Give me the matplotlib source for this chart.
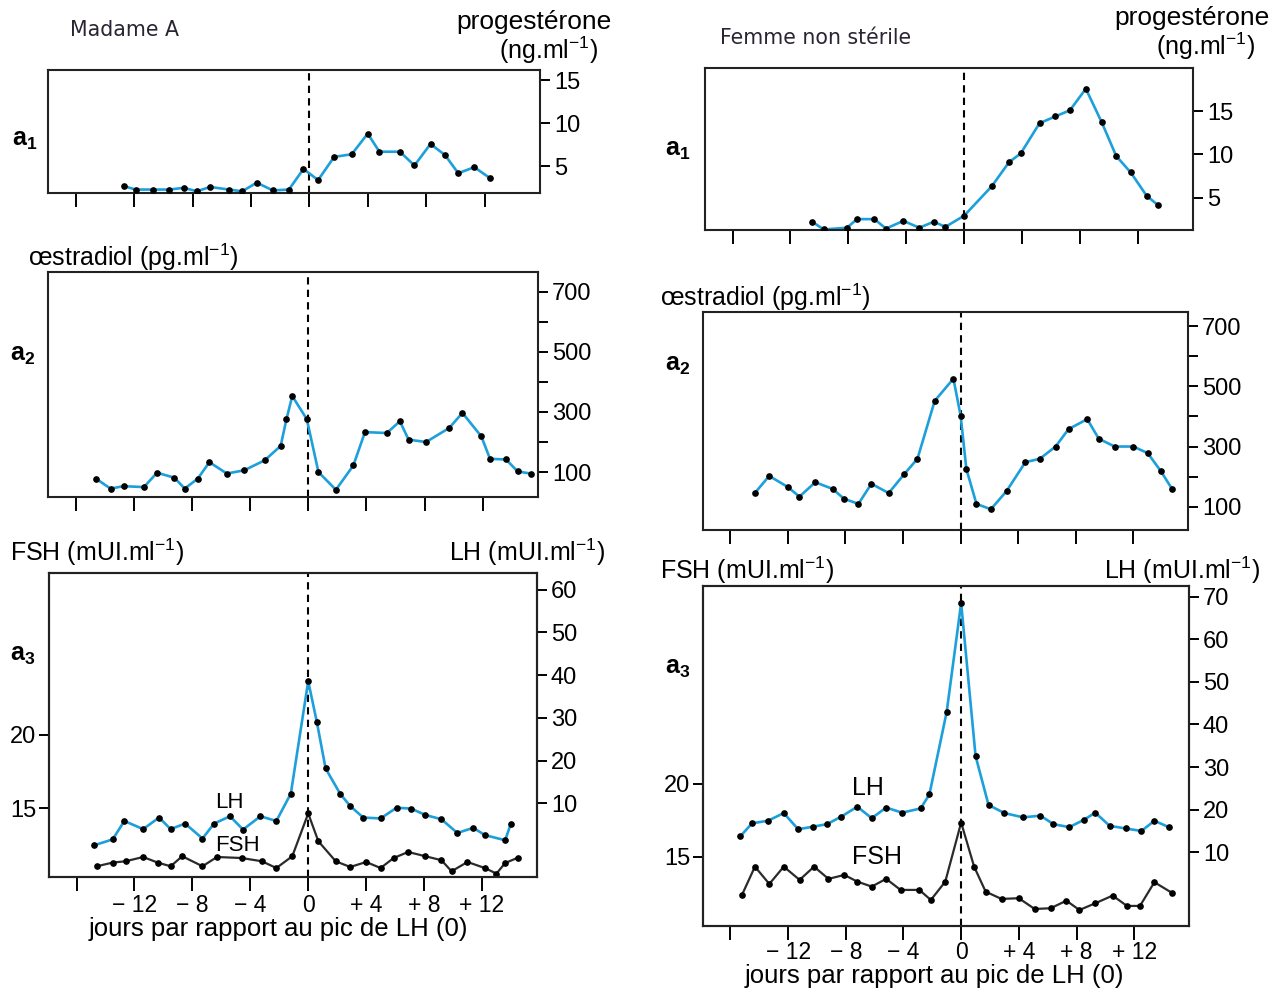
import matplotlib

matplotlib.use("Agg")  # headless
import matplotlib.pyplot as plt  # noqa: E402

plt.rcParams["font.family"] = ["Liberation Sans", "DejaVu Sans"]
plt.rcParams["mathtext.fontset"] = "custom"
plt.rcParams["mathtext.rm"] = "Liberation Sans"
plt.rcParams["mathtext.bf"] = "Liberation Sans:bold"
plt.rcParams["mathtext.it"] = "Liberation Sans:italic"

W, H = 1283, 996
BLUE = "#1d9fdb"
DARK = "#2b2b2b"

# ---------------------------------------------------------------------------
# data (days relative to the LH peak)
# ---------------------------------------------------------------------------
# Madame A
a_prog_days = [-12.7, -11.9, -10.7, -9.6, -8.6, -7.7, -6.8, -5.5, -4.6, -3.6, -2.5, -1.4,
               -0.4, 0.6, 1.7, 2.9, 4.0, 4.8, 6.2, 7.2, 8.3, 9.3, 10.2, 11.3, 12.4]
a_prog = [2.7, 2.3, 2.3, 2.3, 2.5, 2.1, 2.6, 2.3, 2.1, 3.1, 2.2, 2.3,
          4.7, 3.4, 6.1, 6.4, 8.8, 6.7, 6.7, 5.1, 7.6, 6.3, 4.2, 4.9, 3.6]

a_oestr_days = [-14.6, -13.6, -12.7, -11.3, -10.4, -9.2, -8.5, -7.6, -6.8, -5.6, -4.4, -3.0,
                -1.9, -1.5, -1.1, -0.1, 0.7, 1.9, 3.1, 3.9, 5.4, 6.3, 6.9, 8.1, 9.7, 10.6,
                11.9, 12.5, 13.6, 14.4, 15.3]
a_oestr = [78, 45, 53, 50, 98, 81, 45, 78, 133, 95, 106, 139,
           187, 276, 353, 276, 100, 41, 122, 233, 230, 269, 208, 200, 247, 297,
           219, 144, 142, 102, 95]

a_lh_days = [-14.8, -13.5, -12.7, -11.4, -10.3, -9.5, -8.5, -7.3, -6.5, -5.4, -4.5, -3.3,
             -2.2, -1.2, 0.0, 0.6, 1.2, 2.2, 2.9, 3.8, 5.0, 6.1, 7.1, 8.1, 9.2, 10.3,
             11.4, 12.2, 13.6, 14.0]
a_lh = [0.2, 1.6, 5.9, 4.0, 6.7, 4.0, 5.3, 1.8, 5.3, 7.0, 3.9, 7.0,
        5.9, 12.3, 38.6, 29.0, 18.2, 12.3, 9.4, 6.7, 6.5, 9.0, 8.8, 7.3, 6.3, 3.1,
        4.3, 2.6, 1.4, 5.3]

a_fsh_days = [-14.6, -13.5, -12.6, -11.4, -10.4, -9.5, -8.7, -7.3, -6.3, -4.6, -3.2, -2.2,
              -1.1, 0.0, 0.7, 1.9, 2.9, 4.0, 5.0, 5.9, 6.9, 8.1, 9.2, 9.9, 11.0, 12.2,
              13.0, 13.6, 14.5]
a_fsh = [11.07, 11.32, 11.41, 11.70, 11.32, 11.07, 11.75, 11.07, 11.70, 11.63, 11.41, 10.95,
         11.75, 14.66, 12.77, 11.41, 11.02, 11.36, 10.95, 11.63, 12.04, 11.75, 11.48, 10.73,
         11.36, 10.95, 10.57, 11.29, 11.66]

# Femme non stérile
b_prog_days = [-10.5, -9.7, -8.1, -7.4, -6.2, -5.4, -4.2, -3.1, -2.1, -1.3, 0.0, 1.9,
               3.1, 3.9, 5.2, 6.3, 7.3, 8.4, 9.5, 10.5, 11.5, 12.6, 13.4]
b_prog = [2.2, 1.3, 1.5, 2.5, 2.5, 1.4, 2.3, 1.5, 2.2, 1.6, 2.9, 6.3,
          9.1, 10.1, 13.6, 14.4, 15.1, 17.6, 13.7, 9.8, 7.9, 5.2, 4.1]

b_oestr_days = [-14.3, -13.3, -12.0, -11.2, -10.1, -8.9, -8.1, -7.1, -6.2, -5.0, -3.9, -3.0,
                -1.8, -0.5, 0.0, 0.4, 1.1, 2.1, 3.2, 4.5, 5.5, 6.6, 7.5, 8.8, 9.6, 10.7,
                12.0, 13.0, 13.9, 14.7]
b_oestr = [145, 202, 165, 133, 181, 159, 126, 109, 176, 145, 209, 259,
           452, 526, 403, 225, 109, 91, 152, 248, 259, 300, 358, 391, 326, 300,
           300, 278, 219, 158]

b_lh_days = [-15.3, -14.5, -13.4, -12.3, -11.3, -10.3, -9.3, -8.3, -7.2, -6.2, -5.2, -4.1,
             -2.8, -2.2, -1.0, 0.0, 1.0, 1.9, 3.0, 4.3, 5.5, 6.4, 7.5, 8.5, 9.3, 10.3,
             11.4, 12.5, 13.4, 14.4]
b_lh = [13.8, 16.8, 17.4, 19.2, 15.4, 16.0, 16.6, 18.4, 20.7, 18.0, 20.5, 19.3,
        20.3, 23.6, 43.0, 68.5, 32.6, 21.1, 19.2, 18.2, 18.6, 16.6, 15.9, 17.6, 19.3, 16.2,
        15.6, 15.0, 17.4, 15.9]

b_fsh_days = [-15.2, -14.3, -13.3, -12.3, -11.2, -10.2, -9.2, -8.1, -7.2, -6.2, -5.2, -4.2,
              -2.9, -2.1, -1.1, 0.0, 0.9, 1.7, 2.8, 4.0, 5.1, 6.2, 7.3, 8.2, 9.3, 10.5,
              11.5, 12.4, 13.4, 14.6]
b_fsh = [12.36, 14.31, 13.12, 14.31, 13.40, 14.31, 13.47, 13.74, 13.28, 12.94, 13.47, 12.71,
         12.71, 12.02, 13.28, 17.34, 14.31, 12.59, 12.09, 12.14, 11.40, 11.45, 11.97, 11.33,
         11.79, 12.32, 11.61, 11.61, 13.24, 12.52]

DAY_TICKS = [-16, -12, -8, -4, 0, 4, 8, 12]
DAY_LABELS = ["", "\u2212 12", "\u2212 8", "\u2212 4", "0", "+ 4", "+ 8", "+ 12"]
PROG_TICKS = [5, 10, 15]
OESTR_TICKS = [100, 300, 500, 700]
OESTR_MINOR = [200, 400, 600]
FSH_TICKS = [15, 20]
LH_TICKS_A = [10, 20, 30, 40, 50, 60]
LH_TICKS_B = [10, 20, 30, 40, 50, 60, 70]
XLIM = (-17.9, 15.8)


def _axes(fig, x0, y0, x1, y1):
    return fig.add_axes([x0 / W, 1 - y1 / H, (x1 - x0) / W, (y1 - y0) / H])


def _text(fig, x, y, s, **kw):
    kw.setdefault("va", "center")
    fig.text(x / W, 1 - y / H, s, **kw)


def _frame(ax, labels=False, pad=6):
    ax.set_xlim(*XLIM)
    ax.set_xticks(DAY_TICKS)
    ax.set_xticklabels(DAY_LABELS if labels else [""] * len(DAY_TICKS))
    ax.tick_params(axis="x", direction="out", length=10, width=1.4, pad=pad, labelsize=16.5)
    for s in ax.spines.values():
        s.set_linewidth(1.5)
        s.set_color("#222")
    ax.axvline(0, color="black", ls=(0, (3.5, 2.5)), lw=1.5, zorder=1)


def _right_ticks(ax, ticks, minor=None):
    ax.yaxis.tick_right()
    ax.set_yticks(ticks)
    if minor:
        ax.set_yticks(minor, minor=True)
    ax.tick_params(axis="y", which="both", direction="out", length=7, width=1.4,
                   pad=3, labelsize=17)


def _series(ax, days, vals, color, lw=1.9):
    ax.plot(days, vals, color=color, lw=lw, zorder=2)
    ax.plot(days, vals, "o", color="black", ms=3.8, zorder=3)


def _subject(fig, boxes, prog, oestr, lh, fsh, lims, lh_ticks, texts, label_pad):
    b1, b2, b3 = boxes
    ax1 = _axes(fig, *b1)
    _frame(ax1)
    _series(ax1, *prog, BLUE)
    ax1.set_ylim(*lims[0])
    _right_ticks(ax1, PROG_TICKS)

    ax2 = _axes(fig, *b2)
    _frame(ax2)
    _series(ax2, *oestr, BLUE)
    ax2.set_ylim(*lims[1])
    _right_ticks(ax2, OESTR_TICKS, OESTR_MINOR)

    ax3 = _axes(fig, *b3)
    _frame(ax3, labels=True, pad=label_pad)
    _series(ax3, *fsh, DARK, lw=1.6)
    ax3.set_ylim(*lims[2])
    ax3.set_yticks(FSH_TICKS)
    ax3.tick_params(axis="y", direction="out", length=7, width=1.4, pad=2, labelsize=17)
    ax3b = ax3.twinx()
    _series(ax3b, *lh, BLUE)
    ax3b.set_ylim(*lims[3])
    _right_ticks(ax3b, lh_ticks)
    for s in ax3b.spines.values():
        s.set_linewidth(1.5)
        s.set_color("#222")

    ax3.set_xlabel("jours par rapport au pic de LH (0)", fontsize=18.5)
    ax3.xaxis.set_label_coords(*texts["xlabel"])
    for key, (x, y, s, kw) in texts["fig"].items():
        _text(fig, x, y, s, **kw)


fig = plt.figure(figsize=(W / 100, H / 100), dpi=100)

unit = dict(fontsize=18)
prog_kw = dict(ha="right", fontsize=19)
sub = dict(fontsize=18)
name_kw = dict(fontsize=14.8, family="DejaVu Sans", color="#2a2433")

_subject(
    fig,
    boxes=[(48, 70, 540, 193), (48, 272, 538, 497), (49, 573, 537, 877)],
    prog=(a_prog_days, a_prog), oestr=(a_oestr_days, a_oestr),
    lh=(a_lh_days, a_lh), fsh=(a_fsh_days, a_fsh),
    lims=[(1.9, 16.2), (17, 766), (10.34, 31.0), (-7.2, 63.9)],
    lh_ticks=LH_TICKS_A,
    texts={
        "xlabel": (0.47, -0.132),
        "fig": {
            "title": (70, 30, "Madame A", name_kw),
            "p1": (612, 22, "progestérone", prog_kw),
            "p2": (598, 50, "(ng.ml$^{-1}$)", dict(ha="right", **unit)),
            "a1": (12, 140, r"$\mathbf{a}_{\mathbf{1}}$", sub),
            "oe": (28, 257, "œstradiol (pg.ml$^{-1}$)", unit),
            "a2": (10, 355, r"$\mathbf{a}_{\mathbf{2}}$", sub),
            "fsh": (10, 552, "FSH (mUI.ml$^{-1}$)", unit),
            "lh": (605, 552, "LH (mUI.ml$^{-1}$)", dict(ha="right", **unit)),
            "a3": (10, 655, r"$\mathbf{a}_{\mathbf{3}}$", sub),
            "lhlab": (229, 802, "LH", dict(ha="center", fontsize=16)),
            "fshlab": (237, 845, "FSH", dict(ha="center", fontsize=16)),
        },
    },
    label_pad=2,
)

_subject(
    fig,
    boxes=[(705, 68, 1193, 230), (703, 312, 1188, 530), (703, 586, 1189, 926)],
    prog=(b_prog_days, b_prog), oestr=(b_oestr_days, b_oestr),
    lh=(b_lh_days, b_lh), fsh=(b_fsh_days, b_fsh),
    lims=[(1.24, 20.0), (22, 748), (10.23, 33.6), (-7.3, 72.5)],
    lh_ticks=LH_TICKS_B,
    texts={
        "xlabel": (0.477, -0.112),
        "fig": {
            "title": (720, 38, "Femme non stérile", name_kw),
            "p1": (1270, 18, "progestérone", prog_kw),
            "p2": (1255, 46, "(ng.ml$^{-1}$)", dict(ha="right", **unit)),
            "a1": (665, 150, r"$\mathbf{a}_{\mathbf{1}}$", sub),
            "oe": (660, 297, "œstradiol (pg.ml$^{-1}$)", unit),
            "a2": (665, 365, r"$\mathbf{a}_{\mathbf{2}}$", sub),
            "fsh": (660, 570, "FSH (mUI.ml$^{-1}$)", unit),
            "lh": (1260, 570, "LH (mUI.ml$^{-1}$)", dict(ha="right", **unit)),
            "a3": (665, 668, r"$\mathbf{a}_{\mathbf{3}}$", sub),
            "lhlab": (868, 788, "LH", dict(ha="center", fontsize=18)),
            "fshlab": (877, 857, "FSH", dict(ha="center", fontsize=18)),
        },
    },
    label_pad=1,
)

fig.savefig("out.png", dpi=100)
